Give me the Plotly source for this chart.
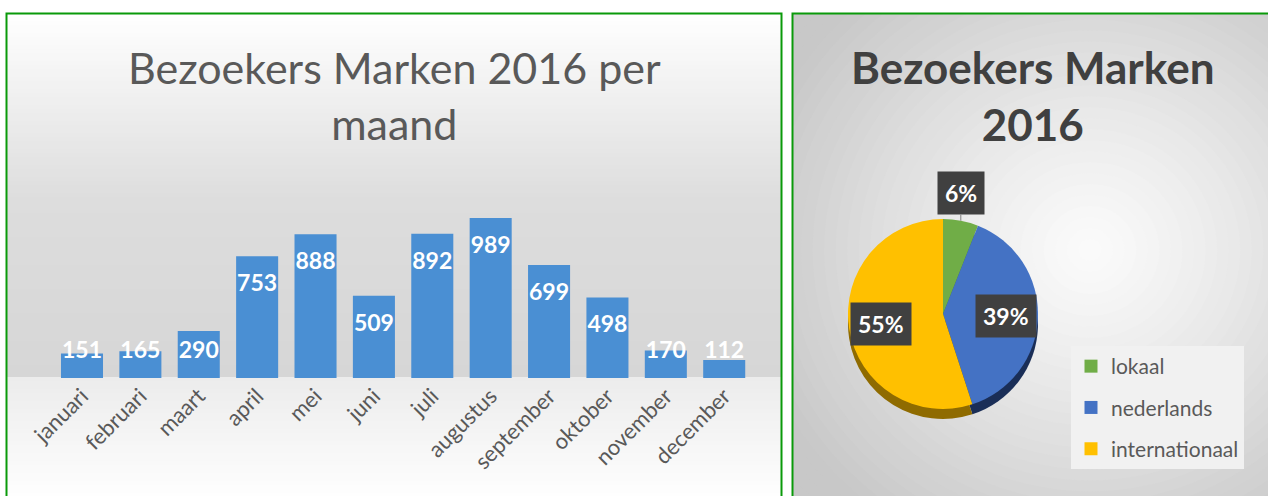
import math
import plotly.graph_objects as go

# ---------------- data ----------------
months = ["januari", "februari", "maart", "april", "mei", "juni", "juli",
          "augustus", "september", "oktober", "november", "december"]
visitors = [151, 165, 290, 753, 888, 509, 892, 989, 699, 498, 170, 112]

pie_labels = ["lokaal", "nederlands", "internationaal"]
pie_values = [6, 39, 55]
pie_colors = ["#70ad47", "#4472c4", "#ffc000"]
pie_side_colors = ["#4a7a2c", "#1a2e57", "#8f6b00"]

bar_title = "Bezoekers Marken 2016 per<br>maand"
pie_title = "Bezoekers Marken<br>2016"

# ---------------- layout constants ----------------
W, H = 1268, 496
FONT = "Lato"


def px_x(x):
    return x / W


def px_y(y):
    return 1 - y / H


def gray(v):
    v = int(round(max(0, min(255, v))))
    return f"rgb({v},{v},{v})"


shapes = []

# right panel radial background (concentric circles)
rcx, rcy = 1090, 250
n_rings = 45
for i in range(n_rings):
    r = 520 * (1 - i / n_rings)
    v = 251 - (251 - 200) * min(1.0, (r / 350) ** 1.2)
    shapes.append(dict(type="circle", xref="paper", yref="paper", layer="below",
                       x0=px_x(rcx - r), x1=px_x(rcx + r),
                       y0=px_y(rcy + r * 0.95), y1=px_y(rcy - r * 0.95),
                       fillcolor=gray(v), line=dict(width=0)))

# white around panels
shapes.append(dict(type="rect", xref="paper", yref="paper", layer="below",
                   x0=0, x1=1, y0=px_y(13), y1=1, fillcolor="white", line=dict(width=0)))
shapes.append(dict(type="rect", xref="paper", yref="paper", layer="below",
                   x0=0, x1=px_x(792), y0=0, y1=1, fillcolor="white", line=dict(width=0)))


# left panel vertical gradient (wall + floor)
def left_gray(y):
    if y < 200:
        return 255 - (255 - 221) * (y - 13) / (200 - 13)
    if y < 378:
        return 221 - (221 - 214) * (y - 200) / (378 - 200)
    return 236 + (254 - 236) * (y - 378) / (496 - 378)


step = 4
y = 13
while y < H:
    y2 = min(H, y + step)
    shapes.append(dict(type="rect", xref="paper", yref="paper", layer="below",
                       x0=px_x(7), x1=px_x(781), y0=px_y(y2), y1=px_y(y),
                       fillcolor=gray(left_gray((y + y2) / 2)), line=dict(width=0)))
    y = y2

# panel borders
green = "#0a9a0a"
shapes.append(dict(type="rect", xref="paper", yref="paper", layer="above",
                   x0=px_x(6.5), x1=px_x(781.5), y0=px_y(520), y1=px_y(13.5),
                   line=dict(color=green, width=2), fillcolor="rgba(0,0,0,0)"))
shapes.append(dict(type="rect", xref="paper", yref="paper", layer="above",
                   x0=px_x(792.5), x1=px_x(1290), y0=px_y(520), y1=px_y(13.5),
                   line=dict(color=green, width=2), fillcolor="rgba(0,0,0,0)"))

fig = go.Figure()

# ---------------- bar chart ----------------
fig.add_trace(go.Bar(
    x=months, y=visitors,
    marker=dict(color="#4a8fd3", line=dict(width=0)),
    showlegend=False, hoverinfo="x+y",
))

# value labels: "inside end", clamped so they stay above the baseline
label_drop = 180   # in value units (~29 px)
label_min = 160
fig.add_trace(go.Scatter(
    x=months, y=[max(v - label_drop, label_min) for v in visitors],
    text=[str(v) for v in visitors], mode="text", textposition="middle center",
    textfont=dict(family=FONT, size=23, color="white", weight="bold"),
    cliponaxis=False, showlegend=False, hoverinfo="skip",
))

# ---------------- pie chart ----------------
pcx, pcy, pr, depth = 943, 314, 95, 10

fig.add_trace(go.Pie(
    labels=pie_labels, values=pie_values, sort=False, direction="clockwise",
    rotation=0, marker=dict(colors=pie_side_colors, line=dict(width=0)),
    textinfo="none", showlegend=False, hoverinfo="skip",
    domain=dict(x=[px_x(pcx - pr), px_x(pcx + pr)],
                y=[px_y(pcy + depth + pr), px_y(pcy + depth - pr)]),
))
fig.add_trace(go.Pie(
    labels=pie_labels, values=pie_values, sort=False, direction="clockwise",
    rotation=0, marker=dict(colors=pie_colors, line=dict(width=0)),
    textinfo="none", showlegend=False,
    domain=dict(x=[px_x(pcx - pr), px_x(pcx + pr)],
                y=[px_y(pcy + pr), px_y(pcy - pr)]),
))

# legend entries for the pie categories
for lab, col in zip(pie_labels, pie_colors):
    fig.add_trace(go.Scatter(
        x=[None], y=[None], mode="markers", name=lab, legendgroup=lab,
        marker=dict(symbol="square", size=13, color=col),
        showlegend=True, hoverinfo="skip",
    ))

annotations = []
# pie percentage labels computed from the values
total = sum(pie_values)
cum = 0
for v in pie_values:
    mid = (cum + v / 2) / total * 2 * math.pi
    cum += v
    pct = f"{round(100 * v / total)}%"
    sx, sy = math.sin(mid), -math.cos(mid)
    if v / total < 0.1:
        ex, ey = pcx + pr * sx, pcy + pr * sy
        annotations.append(dict(
            x=px_x(ex), y=px_y(ey), xref="paper", yref="paper",
            ax=0, ay=-6, axref="pixel", ayref="pixel",
            text=pct, showarrow=True, arrowhead=0, arrowwidth=1, arrowcolor="#7f7f7f",
            standoff=0, startstandoff=0,
            font=dict(family=FONT, size=23, color="white", weight="bold"),
            bgcolor="#404040", borderpad=7, xanchor="center", yanchor="bottom",
        ))
    else:
        lx, ly = pcx + 0.66 * pr * sx, pcy + 0.66 * pr * sy
        annotations.append(dict(
            x=px_x(lx), y=px_y(ly), xref="paper", yref="paper",
            text=pct, showarrow=False,
            font=dict(family=FONT, size=23, color="white", weight="bold"),
            bgcolor="#404040", borderpad=7, xanchor="center", yanchor="middle",
        ))

annotations.append(dict(
    x=px_x(394), y=px_y(95), xref="paper", yref="paper", showarrow=False,
    text=bar_title, align="center", xanchor="center", yanchor="middle",
    font=dict(family=FONT, size=43, color="#595959"),
))
annotations.append(dict(
    x=px_x(1032), y=px_y(95), xref="paper", yref="paper", showarrow=False,
    text=pie_title, align="center", xanchor="center", yanchor="middle",
    font=dict(family=FONT, size=44, color="#404040", weight="bold"),
))

fig.update_layout(
    width=W, height=H,
    margin=dict(l=0, r=0, t=0, b=0, pad=0, autoexpand=False),
    paper_bgcolor="white", plot_bgcolor="rgba(0,0,0,0)",
    bargap=0.28,
    xaxis=dict(domain=[px_x(52.8), px_x(753.4)], range=[-0.5, len(months) - 0.5],
               showgrid=False, zeroline=False,
               showline=False, ticks="", tickangle=-45, automargin=False,
               tickfont=dict(family=FONT, size=22, color="#595959"),
               categoryorder="array", categoryarray=months, fixedrange=True),
    yaxis=dict(domain=[px_y(378), px_y(200)], range=[0, 1100], visible=False,
               automargin=False, fixedrange=True),
    shapes=shapes,
    annotations=annotations,
    showlegend=True,
    legend=dict(x=px_x(1071), y=px_y(346), xanchor="left", yanchor="top",
                bgcolor="#f1f1f1", borderwidth=0, traceorder="grouped",
                tracegroupgap=11,
                font=dict(family=FONT, size=21, color="#595959")),
    font=dict(family=FONT),
)

fig.write_html("out.html", config={"displayModeBar": False},
               post_script="document.body.style.margin='0';document.body.style.overflow='hidden';")
